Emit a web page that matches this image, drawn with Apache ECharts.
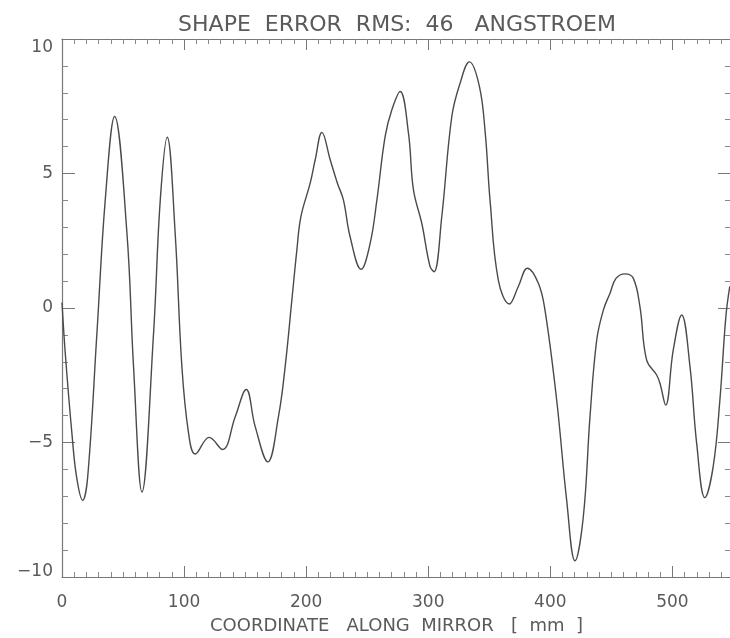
<!DOCTYPE html>
<html>
<head>
<meta charset="utf-8">
<script src="https://cdn.jsdelivr.net/npm/echarts@6/dist/echarts.min.js"></script>
<style>
    html, body { margin: 0; padding: 0; background: #fff; }
    #chart { width: 730px; height: 638px; }
</style>
</head>
<body>
<div id="chart"></div>
<script>
// profile: coordinate along mirror [mm] -> shape error [angstroem]
const posMm = [
    0, 2.7, 8.1, 12, 16.9, 21, 28.6, 35.4, 43.1, 53.2, 58.6, 65.5, 75, 80.5, 86.2,
    92.7, 98.2, 103.7, 109.1, 120.6, 131.5, 141.9, 150.9, 158.2, 168.6, 177.3, 182.8,
    188.3, 192.4, 195.7, 203.3, 207.4, 212.9, 219.7, 225.6, 230.5, 236, 245, 252.4,
    257.9, 264.7, 270.2, 277, 283.8, 287.9, 294.7, 301.5, 304.8, 311.1, 319.3, 326.1,
    333.7, 341.9, 346.7, 350.6, 357.4, 366.4, 373.8, 381.2, 390.2, 395.6, 405.2, 413.4,
    420.2, 427, 432.5, 438, 443.5, 448.9, 453.8, 461.2, 468, 473.4, 478.9, 487.1,
    489.8, 494.5, 500.7, 507.6, 514.4, 519.9, 526.6, 533.4, 538.9, 543.8, 547
];
const errorA = [
    0.2, -1.7, -4.65, -6.3, -7.15, -6.3, -0.94, 4.0, 7.12, 2.78, -2.18, -6.84, -0.94, 4.02, 6.35,
    2.78, -2.18, -4.66, -5.43, -4.81, -5.26, -4.04, -3.03, -4.4, -5.72, -4.04, -2.18,
    0.3, 2.16, 3.4, 4.64, 5.51, 6.53, 5.51, 4.64, 4.02, 2.65, 1.44, 2.4,
    4.0, 6.38, 7.37, 8.05, 6.5, 4.39, 3.15, 1.54, 1.35, 3.4, 7.12, 8.36,
    9.15, 8.24, 6.5, 4.02, 1.04, 0.15, 0.8, 1.48, 0.92, -0.07, -3.42, -7.15,
    -9.4, -7.77, -4.04, -1.19, -0.07, 0.55, 1.1, 1.27, 1.1, 0.05, -1.94, -2.49,
    -2.8, -3.61, -1.56, -0.26, -2.18, -5.04, -7.05, -5.9, -3.42, -0.32, 0.8
];
const xTicks = [0, 100, 200, 300, 400, 500];
const yTicks = [-10, -5, 0, 5, 10];

const titleText = 'SHAPE  ERROR  RMS:  46   ANGSTROEM';
const xName = 'COORDINATE   ALONG  MIRROR   [  mm  ]';

const FONT = 'DejaVu Sans';
const INK = '#5a5a5a';

const chart = echarts.init(document.getElementById('chart'), null, { renderer: 'canvas' });

const profile = posMm.map((x, i) => [x, errorA[i]]);

function frameX(pos, showLabels) {
    return {
        type: 'value',
        position: pos,
        min: 0,
        max: 548,
        interval: 100,
        name: showLabels ? xName : '',
        nameLocation: 'middle',
        nameGap: 40,
        nameTextStyle: { fontFamily: FONT, fontSize: 18, color: INK },
        axisLine: { show: true, onZero: false, lineStyle: { color: '#777', width: 1.2 } },
        axisTick: { show: true, inside: true, length: 11, lineStyle: { color: '#777' } },
        minorTick: { show: true, splitNumber: 10, length: 5, lineStyle: { color: '#888' } },
        axisLabel: {
            show: showLabels,
            margin: 17,
            fontFamily: FONT,
            fontSize: 17,
            color: INK,
            showMaxLabel: false,
            formatter: v => xTicks.includes(v) ? String(v) : ''
        },
        splitLine: { show: false }
    };
}

function frameY(pos, showLabels) {
    return {
        type: 'value',
        position: pos,
        min: -10,
        max: 10,
        interval: 5,
        axisLine: { show: showLabels, onZero: false, lineStyle: { color: '#777', width: 1.2 } },
        axisTick: { show: true, inside: true, length: 13, lineStyle: { color: '#777' } },
        minorTick: { show: true, splitNumber: 5, length: 6, lineStyle: { color: '#888' } },
        axisLabel: {
            show: showLabels,
            margin: 9,
            fontFamily: FONT,
            fontSize: 17,
            color: INK,
            formatter: v => {
                if (!yTicks.includes(v)) return '';
                const s = v < 0 ? '\u2212' + Math.abs(v) : String(v);
                if (v === 10) return '{hi|' + s + '}';
                if (v === -10) return '{lo|' + s + '}';
                return s;
            },
            rich: {
                hi: { fontFamily: FONT, fontSize: 17, color: INK, padding: [18, 0, 0, 0] },
                lo: { fontFamily: FONT, fontSize: 17, color: INK, padding: [0, 0, 10, 0] }
            }
        },
        splitLine: { show: false }
    };
}

const option = {
    backgroundColor: '#fff',
    animation: false,
    title: {
        text: titleText,
        left: 392,
        top: 9,
        textAlign: 'center',
        textStyle: { fontFamily: FONT, fontSize: 22, fontWeight: 'normal', color: INK }
    },
    grid: { left: 62, right: -1, top: 39, bottom: 61, containLabel: false, outerBoundsMode: 'none' },
    xAxis: [frameX('bottom', true), frameX('top', false)],
    yAxis: [frameY('left', true), frameY('right', false)],
    series: [{
        type: 'line',
        xAxisIndex: 0,
        yAxisIndex: 0,
        data: profile,
        smooth: 0.4,
        showSymbol: false,
        lineStyle: { color: '#4a4a4a', width: 1.4 }
    }]
};

chart.setOption(option);
</script>
</body>
</html>
